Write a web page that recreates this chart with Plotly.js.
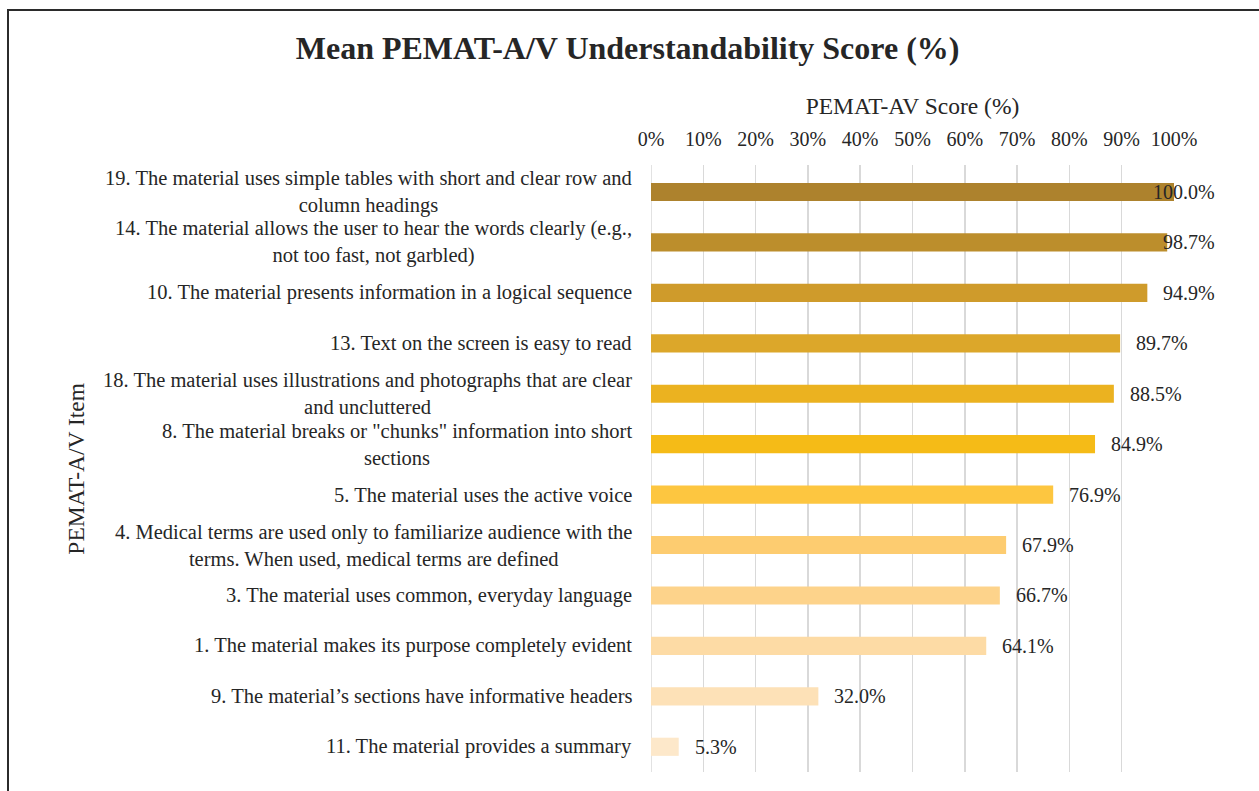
<!DOCTYPE html>
<html>
<head>
<meta charset="utf-8">
<script src="https://cdn.plot.ly/plotly-3.0.1.min.js"></script>
<style>
  html, body { margin: 0; padding: 0; background: #fff; overflow: hidden; }
  #chart { width: 1259px; height: 791px; }
  #frame { position: absolute; left: 7px; top: 9px; width: 1300px; height: 900px;
           border-left: 2px solid #2b2b2b; border-top: 2px solid #2b2b2b; pointer-events: none; }
</style>
</head>
<body>
<div id="chart"></div>
<div id="frame"></div>
<script>
const categories = [
  "19. The material uses simple tables with short and clear row and<br>column headings",
  "14. The material allows the user to hear the words clearly (e.g.,<br>not too fast, not garbled)",
  "10. The material presents information in a logical sequence",
  "13. Text on the screen is easy to read",
  "18. The material uses illustrations and photographs that are clear<br>and uncluttered",
  "8. The material breaks or \"chunks\" information into short<br>sections",
  "5. The material uses the active voice",
  "4. Medical terms are used only to familiarize audience with the<br>terms. When used, medical terms are defined",
  "3. The material uses common, everyday language",
  "1. The material makes its purpose completely evident",
  "9. The material\u2019s sections have informative headers",
  "11. The material provides a summary"
];
const scores = [100.0, 98.7, 94.9, 89.7, 88.5, 84.9, 76.9, 67.9, 66.7, 64.1, 32.0, 5.3];
const barColors = ["#AD822D", "#BC8E2C", "#CF9B2B", "#DCA72A", "#EBB220", "#F5BB17",
                   "#FDC640", "#FDCC70", "#FDD38B", "#FDDBA5", "#FDE1B7", "#FDE8CA"];
const xTickVals = [0, 10, 20, 30, 40, 50, 60, 70, 80, 90, 100];
const xTickText = ["0%", "10%", "20%", "30%", "40%", "50%", "60%", "70%", "80%", "90%", "100%"];

const FONT = "Liberation Serif, Times New Roman, serif";
const TXT = "#262626";

const trace = {
  type: "bar",
  orientation: "h",
  x: scores,
  y: categories,
  marker: { color: barColors },
  hoverinfo: "skip"
};

const annotations = [];
categories.forEach((c, i) => {
  annotations.push({
    xref: "paper", yref: "y", x: 0, y: c, xanchor: "right", yanchor: "middle",
    xshift: -17, text: c, align: "center", showarrow: false,
    font: { family: FONT, size: 20.5, color: TXT }
  });
  const v = scores[i];
  const clamp = v > 95;
  annotations.push({
    xref: clamp ? "paper" : "x", yref: "y", x: clamp ? 1.083 : v, y: c,
    xanchor: clamp ? "right" : "left", yanchor: "middle",
    xshift: clamp ? 0 : 14, text: v.toFixed(1) + "%", showarrow: false,
    font: { family: FONT, size: 20, color: TXT }
  });
});
annotations.push({
  xref: "paper", yref: "paper", x: -1.101, y: 0.5, xanchor: "center", yanchor: "middle",
  text: "PEMAT-A/V Item", textangle: -90, showarrow: false,
  font: { family: FONT, size: 23.5, color: TXT }
});

const layout = {
  width: 1259, height: 791,
  margin: { l: 651, r: 85, t: 165, b: 19 },
  paper_bgcolor: "#fff", plot_bgcolor: "#fff",
  showlegend: false,
  bargap: 0.64,
  title: {
    text: "<b>Mean PEMAT-A/V Understandability Score (%)</b>",
    font: { family: FONT, size: 32, color: TXT },
    x: 0.4985, xanchor: "center", y: 0.94, yanchor: "middle", xref: "container"
  },
  xaxis: {
    side: "top", range: [0, 100], tickvals: xTickVals, ticktext: xTickText,
    showgrid: true, gridcolor: "#d9d9d9", gridwidth: 1.5, zeroline: false,
    showline: false, ticks: "", ticklabelstandoff: 14,
    tickfont: { family: FONT, size: 20, color: TXT },
    title: { text: "PEMAT-AV Score (%)", font: { family: FONT, size: 23.5, color: TXT }, standoff: 6 },
    fixedrange: true
  },
  yaxis: {
    type: "category", autorange: "reversed", showticklabels: false, ticks: "",
    showgrid: false, zeroline: false, showline: false, fixedrange: true
  },
  shapes: [{
    type: "line", xref: "x", yref: "paper", x0: 0, x1: 0, y0: 0, y1: 1,
    line: { color: "#d9d9d9", width: 1.5 }, layer: "below"
  }],
  annotations: annotations
};

Plotly.newPlot("chart", [trace], layout, { displayModeBar: false, staticPlot: true });
</script>
</body>
</html>
